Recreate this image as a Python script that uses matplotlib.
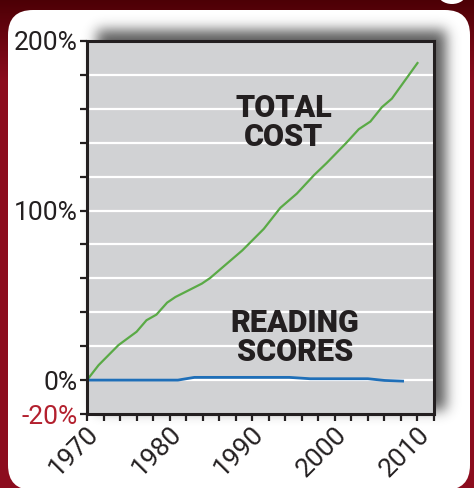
import numpy as np
import matplotlib
matplotlib.use('Agg')
import matplotlib.pyplot as plt
from matplotlib.patches import FancyBboxPatch, Ellipse
import matplotlib.transforms as mtransforms

# ---- data ----
cost_years = [1970, 1971.4, 1973.8, 1976.0, 1977.2, 1978.4, 1979.7, 1980.7, 1983.9, 1984.9,
              1988.8, 1991.4, 1993.4, 1995.4, 1997.5, 1999.0, 2001.4, 2002.9, 2004.3,
              2005.7, 2006.9, 2010.0]
cost_pct = [0, 8.8, 20.6, 28.5, 35.3, 38.6, 45.7, 49, 56.9, 60.2,
            76.5, 89.2, 101.6, 110, 121, 128, 140, 148, 152.5,
            161, 166, 187]
read_years = [1970, 1981, 1983, 1994.5, 1997, 2004, 2006, 2008.2]
read_pct = [0, 0, 1.6, 1.6, 0.8, 0.8, -0.2, -0.6]
ytick_vals = [-20, 0, 20, 40, 60, 80, 100, 120, 140, 160, 180, 200]
ytick_labels = ['-20%', '0%', '', '', '', '', '100%', '', '', '', '', '200%']
xtick_vals = list(range(1970, 2013, 2))
xtick_labels = [str(y) if y % 10 == 0 else '' for y in xtick_vals]

W, H = 474, 488
fig = plt.figure(figsize=(W / 100, H / 100), dpi=100)

# ---- background layer (pixel coords, y down) ----
bg = fig.add_axes([0, 0, 1, 1], zorder=0)
bg.set_xlim(0, W)
bg.set_ylim(H, 0)
bg.axis('off')

grad = np.linspace(0, 1, H)[:, None]
top = np.array([0.30, 0.0, 0.02])
mid = np.array([0.55, 0.05, 0.12])
img = top + (mid - top) * np.clip(grad * 6, 0, 1)[..., None]
img = np.repeat(img, W, axis=1)
bg.imshow(img, extent=[0, W, H, 0], aspect='auto', zorder=0)

panel = FancyBboxPatch((8 + 25, 10 + 25), 462 - 50, 480 - 50,
                       boxstyle='round,pad=25', fc='white', ec='none', zorder=1)
bg.add_patch(panel)
bg.add_patch(Ellipse((452, -6), 28, 20, fc='white', ec='none', zorder=1))

# blurred shadow
mask = np.zeros((H, W))
mask[30:410, 97:446] = 1.0
sig = 6.5
k = np.arange(-20, 21)
ker = np.exp(-k ** 2 / (2 * sig ** 2))
ker /= ker.sum()
mask = np.apply_along_axis(lambda r: np.convolve(r, ker, mode='same'), 1, mask)
mask = np.apply_along_axis(lambda c: np.convolve(c, ker, mode='same'), 0, mask)
rgba = np.zeros((H, W, 4))
rgba[..., :3] = 0.15
rgba[..., 3] = mask * 0.75
bg.imshow(rgba, extent=[0, W, H, 0], aspect='auto', zorder=2)

# ---- main plot ----
L, R, T, B = 87, 434, 41, 414
ax = fig.add_axes([L / W, (H - B) / H, (R - L) / W, (B - T) / H], zorder=1)
ax.set_facecolor('#d1d2d4')
ax.set_xlim(1970, 2012)
ax.set_ylim(-20, 200)

for v in ytick_vals:
    if 0 <= v < 200:
        ax.axhline(v, color='white', lw=1.6, zorder=1)

ax.plot(cost_years, cost_pct, color='#5aaa46', lw=1.6, zorder=3)
ax.plot(read_years, read_pct, color='#1f6fb8', lw=2.0, zorder=3)

dark = '#231f20'
for s in ax.spines.values():
    s.set_color(dark)
    s.set_linewidth(2.2)
    s.set_zorder(4)

ax.set_yticks(ytick_vals)
ax.set_yticklabels(ytick_labels)
ax.set_xticks(xtick_vals)
ax.set_xticklabels(xtick_labels, rotation=45, ha='right', va='center',
                   rotation_mode='anchor')
ax.tick_params(axis='both', direction='out', length=5, width=1.6, color=dark,
               labelsize=17, labelcolor=dark)
ax.tick_params(axis='y', pad=2)
ax.tick_params(axis='x', pad=4)
for lbl in ax.get_yticklabels() + ax.get_xticklabels():
    lbl.set_family(['Roboto', 'DejaVu Sans'])
    lbl.set_fontweight('normal')
    lbl.set_fontsize(19)
for lbl in ax.get_yticklabels():
    if lbl.get_text() == '-20%':
        lbl.set_color('#b3202e')
offset = mtransforms.ScaledTranslation(8 / 100, -4 / 100, fig.dpi_scale_trans)
for lbl in ax.get_xticklabels():
    lbl.set_transform(lbl.get_transform() + offset)

fam = ['Roboto', 'DejaVu Sans']
ax.text(1993.8, 152, 'TOTAL\nCOST', fontsize=22, fontweight='black', color=dark,
        ha='center', va='center', family=fam, linespacing=0.95, zorder=5)
ax.text(1995.2, 25, 'READING\nSCORES', fontsize=22, fontweight='black', color=dark,
        ha='center', va='center', family=fam, linespacing=0.95, zorder=5)

fig.savefig('out.png', dpi=100)
